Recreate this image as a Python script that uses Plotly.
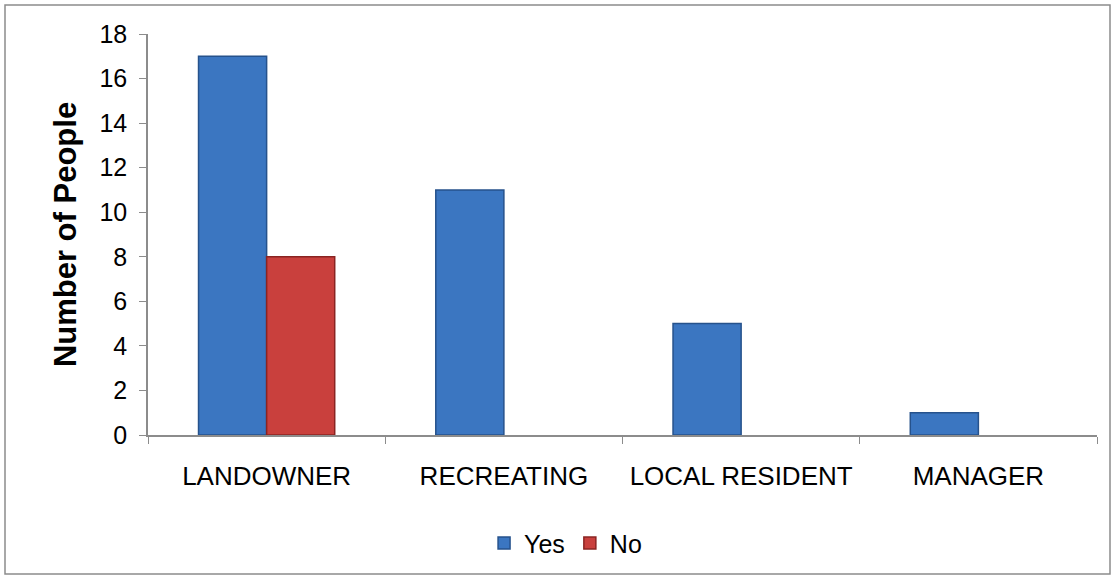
import plotly.graph_objects as go

categories = ["LANDOWNER", "RECREATING", "LOCAL RESIDENT", "MANAGER"]
yes_values = [17, 11, 5, 1]
no_values = [8, 0, 0, 0]
y_ticks = [0, 2, 4, 6, 8, 10, 12, 14, 16, 18]

W, H = 1115, 579
ML, MR, MT, MB = 148, 18, 34, 144
pw, ph = W - ML - MR, H - MT - MB

fig = go.Figure()
fig.add_trace(go.Bar(
    name="Yes", x=categories, y=yes_values,
    marker=dict(color="#3b76c1", line=dict(color="#26528c", width=1.5)),
))
fig.add_trace(go.Bar(
    name="No", x=categories, y=[v if v else None for v in no_values],
    marker=dict(color="#c9403d", line=dict(color="#8a2422", width=1.5)),
))

# outer chart frame
fig.add_shape(
    type="rect", xref="paper", yref="paper",
    x0=(5 - ML) / pw, x1=(1110 - ML) / pw,
    y0=-(574 - MT - ph) / ph, y1=1 + (MT - 5) / ph,
    line=dict(color="#8c8c8c", width=1.5), fillcolor="rgba(0,0,0,0)", layer="below",
)

fig.update_layout(
    width=W, height=H,
    margin=dict(l=ML, r=MR, t=MT, b=MB),
    paper_bgcolor="white", plot_bgcolor="white",
    barmode="group", bargap=0.426, bargroupgap=0,
    font=dict(family="Liberation Sans, Arial, sans-serif", size=25, color="black"),
    showlegend=True,
    legend=dict(
        orientation="h", x=0.44, xanchor="center", y=-0.27, yanchor="middle",
        font=dict(size=25), itemwidth=30, traceorder="normal",
    ),
    xaxis=dict(
        showline=True, linecolor="#8c8c8c", linewidth=1.5,
        ticks="outside", tickson="boundaries", ticklen=7, tickcolor="#8c8c8c",
        ticklabelstandoff=17, showgrid=False, tickfont=dict(size=26),
    ),
    yaxis=dict(
        range=[0, 18], tickvals=y_ticks,
        showline=True, linecolor="#8c8c8c", linewidth=1.5,
        ticks="outside", ticklen=7, tickcolor="#8c8c8c",
        ticklabelstandoff=7, showgrid=False, zeroline=False, tickfont=dict(size=25),
        title=dict(text="<b>Number of People</b>", font=dict(size=31), standoff=14),
    ),
)

fig.write_html("out.html")
